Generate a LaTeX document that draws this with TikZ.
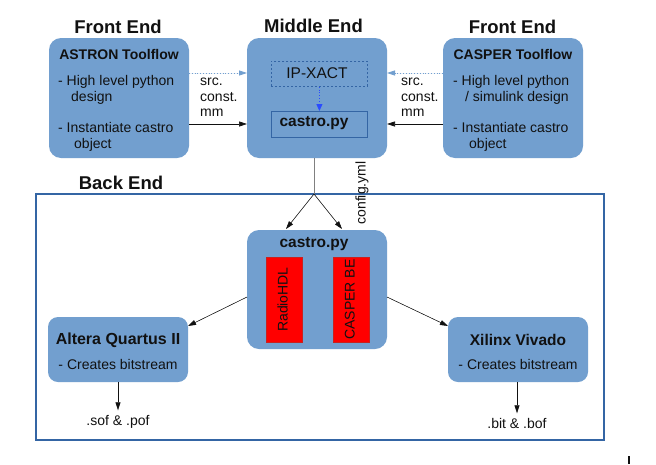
\documentclass[tikz,border=0pt]{standalone}
\usepackage{fontspec}
\setmainfont{Liberation Sans}
\usetikzlibrary{arrows.meta}
\definecolor{boxblue}{HTML}{729FCF}
\definecolor{darkblue}{HTML}{3465A4}
\definecolor{txt}{HTML}{111111}
\definecolor{brightblue}{HTML}{2A4BFF}
\definecolor{redfill}{HTML}{FF0000}
\definecolor{redline}{HTML}{C9211E}
\begin{document}
\begin{tikzpicture}[x=1pt,y=-1pt,
  box/.style={fill=boxblue, draw=none, rounded corners=12pt, inner sep=0pt, outer sep=0pt},
  sbox/.style={fill=boxblue, draw=none, rounded corners=10pt, inner sep=0pt, outer sep=0pt},
  heading/.style={font=\fontsize{18.5}{20}\selectfont\bfseries, text=txt, inner sep=0pt},
  btitle/.style={font=\fontsize{14}{16}\selectfont\bfseries, text=txt, inner sep=0pt, text height=10pt, text depth=3pt},
  body/.style={font=\fontsize{14}{16}\selectfont, text=txt, inner sep=0pt, text height=10pt, text depth=3pt},
  arr/.style={-{Triangle[length=8pt,width=5pt]}, line width=0.6pt, draw=txt, fill=txt},
  dotarr/.style={-{Triangle[length=8pt,width=5pt]}, dotted, draw=boxblue, fill=boxblue, line width=0.8pt},
  redbox/.style={fill=redfill, draw=redline, line width=0.6pt, inner sep=0pt, minimum width=36pt, minimum height=85pt},
]
\useasboundingbox (0,0) rectangle (656,464);
\fill[white] (0,0) rectangle (656,464);

% headings
\node[heading] (hfl) at (118,27) {Front End};
\node[heading] (hme) at (313.5,26) {Middle End};
\node[heading] (hfr) at (512.5,27) {Front End};
\node[heading] (hbe) at (121,183) {Back End};

% back end frame
\draw[darkblue, line width=1.6pt] (36,194) rectangle (604,440);

% ASTRON box
\node[box, minimum width=140pt, minimum height=120pt, anchor=north west] (astron) at (49,38) {};
\node[btitle] (astront) at (119,56) {ASTRON Toolflow};
\node[body, anchor=west] (a1) at (58,82) {- High level python};
\node[body, anchor=west] (a2) at (71,98) {design};
\node[body, anchor=west] (a3) at (58,129) {- Instantiate castro};
\node[body, anchor=west] (a4) at (74,145) {object};

% CASPER box
\node[box, minimum width=140pt, minimum height=120pt, anchor=north west] (casper) at (443,38) {};
\node[btitle] (caspert) at (513,56) {CASPER Toolflow};
\node[body, anchor=west] (c1) at (453,82) {- High level python};
\node[body, anchor=west] (c2) at (465,98) {/ simulink design};
\node[body, anchor=west] (c3) at (453,129) {- Instantiate castro};
\node[body, anchor=west] (c4) at (469,145) {object};

% Middle box
\node[box, minimum width=140pt, minimum height=120pt, anchor=north west] (middle) at (247,38) {};
\node[draw=darkblue, dash pattern=on 2pt off 2pt, line width=0.6pt, minimum width=96pt, minimum height=25pt, inner sep=0pt, anchor=north west] (ipx) at (271,61) {};
\node[font=\fontsize{15.5}{17}\selectfont, text=txt, inner sep=0pt] (ipxt) at (317,73) {IP-XACT};
\node[draw=darkblue, fill=boxblue, line width=0.8pt, minimum width=96pt, minimum height=26pt, inner sep=0pt, anchor=north west] (castrotop) at (271,111) {};
\node[font=\fontsize{15.5}{17}\selectfont\bfseries, text=txt, inner sep=0pt] (castrotopt) at (314,123) {castro.py};
\draw[dotted, brightblue, line width=0.9pt, -{Triangle[length=7pt,width=6pt]}] (ipx.south -| castrotop.north) -- (castrotop.north);

% side arrows and labels
\coordinate (al1) at (189,73);
\coordinate (ml1) at (247,73);
\coordinate (al2) at (189,124);
\coordinate (ml2) at (247,124);
\draw[dotarr] (al1) -- (ml1);
\draw[arr] (al2) -- (ml2);
\node[body, anchor=west] (sl1) at (200,82) {src.};
\node[body, anchor=west] (sl2) at (200,98) {const.};
\node[body, anchor=west] (sl3) at (200,113) {mm};

\coordinate (cr1) at (443,73);
\coordinate (mr1) at (387,73);
\coordinate (cr2) at (443,124);
\coordinate (mr2) at (387,124);
\draw[dotarr] (cr1) -- (mr1);
\draw[arr] (cr2) -- (mr2);
\node[body, anchor=west] (sr1) at (401,82) {src.};
\node[body, anchor=west] (sr2) at (401,98) {const.};
\node[body, anchor=west] (sr3) at (401,113) {mm};

% back-end castro box
\node[box, minimum width=140pt, minimum height=119pt, anchor=north west] (castrobe) at (247,230) {};
\node[font=\fontsize{15.5}{17}\selectfont\bfseries, text=txt, inner sep=0pt] (castrobet) at (314,244) {castro.py};
\node[redbox, anchor=north west] (radio) at (266,257) {};
\node[body, rotate=90] (radiot) at (284,299.5) {RadioHDL};
\node[redbox, anchor=north west] (casperbe) at (333,257) {};
\node[body, rotate=90] (casperbet) at (351,299.5) {CASPER BE};

% connection middle -> back end
\coordinate (split) at (314,194);
\draw[gray, line width=1pt] (middle.south -| split) -- (split);
\coordinate (t1) at (286,229);
\coordinate (t2) at (342,229);
\draw[arr, line width=0.5pt] (split) -- (t1);
\draw[arr, line width=0.5pt] (split) -- (t2);
\node[body, rotate=90] (cfg) at (362,193) {config.yml};

% Altera and Xilinx
\node[sbox, minimum width=140pt, minimum height=65pt, anchor=north west] (altera) at (48,317) {};
\node[font=\fontsize{16}{18}\selectfont\bfseries, text=txt, inner sep=0pt] (alterat) at (118,340) {Altera Quartus II};
\node[body] (alterab) at (118,366) {- Creates bitstream};
\node[sbox, minimum width=140pt, minimum height=65pt, anchor=north west] (xilinx) at (448,317) {};
\node[font=\fontsize{15.5}{17}\selectfont\bfseries, text=txt, inner sep=0pt] (xilinxt) at (518,340) {Xilinx Vivado};
\node[body] (xilinxb) at (518,366) {- Creates bitstream};

\coordinate (bl) at (247,297);
\coordinate (br) at (387,297);
\coordinate (ae) at (188,326);
\coordinate (xe) at (448,326);
\draw[arr, line width=0.5pt] (bl) -- (ae);
\draw[arr, line width=0.5pt] (br) -- (xe);

\node[body] (sof) at (118,422) {.sof \& .pof};
\node[body] (bit) at (517,425) {.bit \& .bof};
\draw[arr] (altera.south -| sof) -- ([yshift=5pt]sof.north);
\draw[arr] (xilinx.south -| bit) -- ([yshift=5pt]bit.north);

% small mark
\draw[txt, line width=1.4pt] (629,456) -- (629,464);
\end{tikzpicture}
\end{document}
